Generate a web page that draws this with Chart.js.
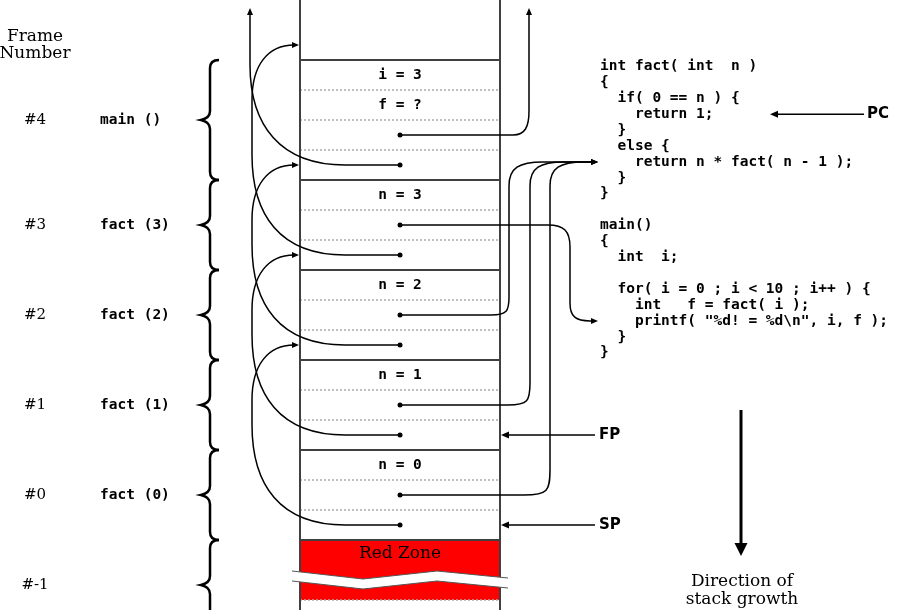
<!DOCTYPE html>
<html>
<head>
<meta charset="utf-8">
<title>Stack frames - fact()</title>
<script src="https://cdn.jsdelivr.net/npm/chart.js@4.4.1/dist/chart.umd.min.js"></script>
<style>
  body { margin: 0; background: #ffffff; }
  #wrap { width: 900px; height: 610px; }
</style>
</head>
<body>
<div id="wrap"><canvas id="stackChart" width="900" height="610"></canvas></div>
<script>
// --- Données du schéma ---
const frameNumbers = ['#4', '#3', '#2', '#1', '#0', '#-1'];
const frameNames = ['main ()', 'fact (3)', 'fact (2)', 'fact (1)', 'fact (0)', ''];
// contenu de chaque case de pile (RET = adresse de retour, FP = ancien frame pointer)
const frameSlots = [
  ['i = 3', 'f = ?', 'RET', 'FP'],
  ['n = 3', 'RET', 'FP'],
  ['n = 2', 'RET', 'FP'],
  ['n = 1', 'RET', 'FP'],
  ['n = 0', 'RET', 'FP']
];
const redZoneSlots = 2;
const codeLines = [
  'int fact( int  n )',
  '{',
  '  if( 0 == n ) {',
  '    return 1;',
  '  }',
  '  else {',
  '    return n * fact( n - 1 );',
  '  }',
  '}',
  '',
  'main()',
  '{',
  '  int  i;',
  '',
  '  for( i = 0 ; i < 10 ; i++ ) {',
  '    int   f = fact( i );',
  '    printf( "%d! = %d\\n", i, f );',
  '  }',
  '}'
];
// ligne de code visée par l'adresse de retour de chaque frame (null = appelant hors schéma)
const returnTargets = [null, 16, 6, 6, 6];
const pcLine = 3;
const currentFrame = 4;

// --- Mise en page (pixels) ---
const L = {
  stackLeft: 300, stackRight: 500, stackTop: 60, slotH: 30,
  codeX: 600, codeTop: 66.5, lineH: 15.9,
  braceX: 210, numX: 35, nameX: 100,
  fpLane: 252, retLanes: [529, 570, 509, 530, 550]
};
const stackMid = (L.stackLeft + L.stackRight) / 2;

const frameStart = [];
frameSlots.reduce((acc, slots) => { frameStart.push(acc); return acc + slots.length; }, 0);
const totalSlots = frameStart[frameStart.length - 1] + frameSlots[frameSlots.length - 1].length;

const boundaryY = s => L.stackTop + s * L.slotH;
const slotY = s => L.stackTop + (s + 0.5) * L.slotH;
const fpOf = k => boundaryY(frameStart[k]) - L.slotH / 2;
const slotOf = (k, tag) => frameStart[k] + frameSlots[k].indexOf(tag);
const codeY = i => L.codeTop + i * L.lineH;

// points (pointeurs) dessinés par le dataset
const pointerDots = [];
frameSlots.forEach((slots, k) => {
  slots.forEach((v, j) => {
    if (v === 'RET' || v === 'FP') pointerDots.push({ x: stackMid, y: slotY(frameStart[k] + j) });
  });
});

function tracePath(ctx, X, Y, cmds) {
  ctx.beginPath();
  cmds.forEach(c => {
    const op = c[0], p = c.slice(1);
    if (op === 'M') ctx.moveTo(X(p[0]), Y(p[1]));
    else if (op === 'L') ctx.lineTo(X(p[0]), Y(p[1]));
    else if (op === 'Q') ctx.quadraticCurveTo(X(p[0]), Y(p[1]), X(p[2]), Y(p[3]));
    else if (op === 'C') ctx.bezierCurveTo(X(p[0]), Y(p[1]), X(p[2]), Y(p[3]), X(p[4]), Y(p[5]));
  });
  ctx.stroke();
}

function arrowHead(ctx, X, Y, x, y, dir, len, half) {
  const px = X(x), py = Y(y);
  ctx.beginPath();
  ctx.moveTo(px, py);
  if (dir === 'right') { ctx.lineTo(px - len, py - half); ctx.lineTo(px - len, py + half); }
  if (dir === 'left') { ctx.lineTo(px + len, py - half); ctx.lineTo(px + len, py + half); }
  if (dir === 'up') { ctx.lineTo(px - half, py + len); ctx.lineTo(px + half, py + len); }
  if (dir === 'down') { ctx.lineTo(px - half, py - len); ctx.lineTo(px + half, py - len); }
  ctx.closePath();
  ctx.fill();
}

function brace(ctx, X, Y, top, bot) {
  const mid = (top + bot) / 2, bx = L.braceX;
  tracePath(ctx, X, Y, [
    ['M', bx + 9, top], ['Q', bx, top, bx, top + 8],
    ['L', bx, mid - 9], ['Q', bx, mid - 2, bx - 9, mid],
    ['Q', bx, mid + 2, bx, mid + 9],
    ['L', bx, bot - 8], ['Q', bx, bot, bx + 9, bot]
  ]);
}

const diagramPlugin = {
  id: 'stackDiagram',
  beforeDatasetsDraw(chart) {
    const ctx = chart.ctx;
    const X = v => chart.scales.x.getPixelForValue(v);
    const Y = v => chart.scales.y.getPixelForValue(v);
    ctx.save();

    // zone rouge
    const redTop = boundaryY(totalSlots), redBot = boundaryY(totalSlots + redZoneSlots);
    ctx.fillStyle = '#ff0000';
    ctx.fillRect(X(L.stackLeft), Y(redTop), X(L.stackRight) - X(L.stackLeft), Y(redBot) - Y(redTop));

    // lignes pointillées entre les cases
    ctx.strokeStyle = '#aaaaaa';
    ctx.lineWidth = 1.5;
    ctx.setLineDash([2, 2]);
    frameSlots.forEach((slots, k) => {
      for (let j = 1; j < slots.length; j++) {
        const y = boundaryY(frameStart[k] + j);
        tracePath(ctx, X, Y, [['M', L.stackLeft, y], ['L', L.stackRight, y]]);
      }
    });
    tracePath(ctx, X, Y, [['M', L.stackLeft, redBot], ['L', L.stackRight, redBot]]);
    ctx.setLineDash([]);

    // limites des frames
    ctx.strokeStyle = '#404040';
    ctx.lineWidth = 2;
    frameStart.concat([totalSlots]).forEach(s => {
      tracePath(ctx, X, Y, [['M', L.stackLeft, boundaryY(s)], ['L', L.stackRight, boundaryY(s)]]);
    });
    // murs de la pile
    [L.stackLeft, L.stackRight].forEach(x => {
      tracePath(ctx, X, Y, [['M', x, 0], ['L', x, 610]]);
    });

    // coupure dans la zone rouge
    const zx = [L.stackLeft - 8, L.stackLeft + 63, L.stackLeft + 137, L.stackRight + 8];
    const zt = [redTop + 31, redTop + 39, redTop + 31, redTop + 38];
    const band = 10;
    ctx.fillStyle = '#ffffff';
    ctx.beginPath();
    zx.forEach((x, i) => i ? ctx.lineTo(X(x), Y(zt[i])) : ctx.moveTo(X(x), Y(zt[i])));
    for (let i = zx.length - 1; i >= 0; i--) ctx.lineTo(X(zx[i]), Y(zt[i] + band));
    ctx.closePath();
    ctx.fill();
    ctx.strokeStyle = '#555555';
    ctx.lineWidth = 1;
    tracePath(ctx, X, Y, zx.map((x, i) => [i ? 'L' : 'M', x, zt[i]]));
    tracePath(ctx, X, Y, zx.map((x, i) => [i ? 'L' : 'M', x, zt[i] + band]));

    // accolades
    ctx.strokeStyle = '#000000';
    ctx.lineWidth = 2.5;
    frameSlots.forEach((slots, k) => {
      brace(ctx, X, Y, boundaryY(frameStart[k]), boundaryY(frameStart[k] + slots.length));
    });
    brace(ctx, X, Y, redTop, redTop + 3 * L.slotH);

    // pointeurs : anciens frame pointers (côté gauche)
    ctx.strokeStyle = '#000000';
    ctx.fillStyle = '#000000';
    ctx.lineWidth = 1.5;
    frameSlots.forEach((slots, k) => {
      const y0 = slotY(slotOf(k, 'FP'));
      if (k === 0) {
        const v = L.fpLane - 2;
        tracePath(ctx, X, Y, [['M', stackMid, y0], ['L', 345, y0],
          ['C', 280, y0, v, y0 - 40, v, y0 - 100], ['L', v, 14]]);
        arrowHead(ctx, X, Y, v, 8, 'up', 7, 3);
      } else {
        const yt = fpOf(k - 1), v = L.fpLane;
        tracePath(ctx, X, Y, [['M', stackMid, y0], ['L', 345, y0],
          ['C', 280, y0, v, y0 - 40, v, y0 - 100], ['L', v, yt + 55],
          ['C', v, yt + 20, v + 16, yt, L.stackLeft - 6, yt]]);
        arrowHead(ctx, X, Y, L.stackLeft - 1, yt, 'right', 7, 3);
      }
    });

    // pointeurs : adresses de retour (côté droit)
    frameSlots.forEach((slots, k) => {
      const y0 = slotY(slotOf(k, 'RET')), v = L.retLanes[k], t = returnTargets[k];
      if (t === null) {
        tracePath(ctx, X, Y, [['M', stackMid, y0], ['L', v - 16, y0],
          ['C', v - 4, y0, v, y0 - 8, v, y0 - 24], ['L', v, 14]]);
        arrowHead(ctx, X, Y, v, 8, 'up', 7, 3);
        return;
      }
      const ty = codeY(t);
      if (ty > y0) {
        tracePath(ctx, X, Y, [['M', stackMid, y0], ['L', v - 22, y0],
          ['C', v - 6, y0, v, y0 + 6, v, y0 + 22], ['L', v, ty - 18],
          ['C', v, ty - 4, v + 6, ty, v + 20, ty], ['L', L.codeX - 6, ty]]);
      } else {
        const r = 6 + k * 4;
        tracePath(ctx, X, Y, [['M', stackMid, y0], ['L', v - r - 4, y0],
          ['C', v - 2, y0, v, y0 - 4, v, y0 - r - 4], ['L', v, ty + 24],
          ['C', v, ty + 6, v + 10, ty, v + 34, ty], ['L', L.codeX - 6, ty]]);
      }
      arrowHead(ctx, X, Y, L.codeX - 2, ty, 'right', 7, 3);
    });

    // PC, FP, SP
    const pcY = codeY(pcLine);
    tracePath(ctx, X, Y, [['M', 864, pcY], ['L', 776, pcY]]);
    arrowHead(ctx, X, Y, 770, pcY, 'left', 8, 3.5);
    const regs = [
      { name: 'FP', y: fpOf(currentFrame) },
      { name: 'SP', y: slotY(totalSlots - 1) }
    ];
    regs.forEach(r => {
      tracePath(ctx, X, Y, [['M', 595, r.y], ['L', L.stackRight + 6, r.y]]);
      arrowHead(ctx, X, Y, L.stackRight + 1, r.y, 'left', 8, 3.5);
    });

    // sens de croissance de la pile
    ctx.lineWidth = 3;
    tracePath(ctx, X, Y, [['M', 741, 410], ['L', 741, 545]]);
    arrowHead(ctx, X, Y, 741, 556, 'down', 13, 6.5);

    ctx.restore();
  },
  afterDraw(chart) {
    const ctx = chart.ctx;
    const X = v => chart.scales.x.getPixelForValue(v);
    const Y = v => chart.scales.y.getPixelForValue(v);
    ctx.save();
    ctx.fillStyle = '#000000';
    ctx.textBaseline = 'middle';

    const serif = '"DejaVu Serif", serif';
    const mono = 'bold 14.5px "DejaVu Sans Mono", monospace';

    // en-tête
    ctx.font = '17px ' + serif;
    ctx.textAlign = 'center';
    ctx.fillText('Frame', X(35), Y(37));
    ctx.fillText('Number', X(35), Y(54));

    // numéros et noms des frames
    frameNumbers.forEach((num, k) => {
      let mid;
      if (k < frameSlots.length) mid = (boundaryY(frameStart[k]) + boundaryY(frameStart[k] + frameSlots[k].length)) / 2;
      else mid = boundaryY(totalSlots) + 1.5 * L.slotH;
      ctx.font = '15px ' + serif;
      ctx.textAlign = 'center';
      ctx.fillText(num, X(L.numX), Y(mid));
      ctx.font = mono;
      ctx.textAlign = 'left';
      ctx.fillText(frameNames[k], X(L.nameX), Y(mid));
    });

    // contenu des cases
    ctx.font = mono;
    ctx.textAlign = 'center';
    frameSlots.forEach((slots, k) => {
      slots.forEach((v, j) => {
        if (v !== 'RET' && v !== 'FP') ctx.fillText(v, X(stackMid), Y(slotY(frameStart[k] + j)));
      });
    });

    ctx.font = '17px ' + serif;
    ctx.fillText('Red Zone', X(stackMid), Y(boundaryY(totalSlots) + 14));

    // code source
    ctx.font = mono;
    ctx.textAlign = 'left';
    codeLines.forEach((line, i) => ctx.fillText(line, X(L.codeX), Y(codeY(i))));

    // registres
    ctx.font = 'bold 15px "DejaVu Sans", sans-serif';
    ctx.fillText('PC', X(867), Y(codeY(pcLine)));
    ctx.fillText('FP', X(599), Y(fpOf(currentFrame)));
    ctx.fillText('SP', X(599), Y(slotY(totalSlots - 1)));

    ctx.font = '17px ' + serif;
    ctx.textAlign = 'center';
    ctx.fillText('Direction of', X(742), Y(582));
    ctx.fillText('stack growth', X(742), Y(600));
    ctx.restore();
  }
};

// --- Lancement ---
const stackChart = new Chart(document.getElementById('stackChart').getContext('2d'), {
  type: 'scatter',
  data: {
    datasets: [{
      label: 'pointeurs',
      data: pointerDots,
      pointRadius: 2.5,
      pointHoverRadius: 2.5,
      backgroundColor: '#000000',
      borderColor: '#000000',
      borderWidth: 0
    }]
  },
  options: {
    responsive: false,
    animation: false,
    events: [],
    layout: { padding: 0, autoPadding: false },
    scales: {
      x: { type: 'linear', min: 0, max: 900, display: false },
      y: { type: 'linear', min: 0, max: 610, reverse: true, display: false }
    },
    plugins: { legend: { display: false }, tooltip: { enabled: false } }
  },
  plugins: [diagramPlugin]
});
</script>
</body>
</html>
